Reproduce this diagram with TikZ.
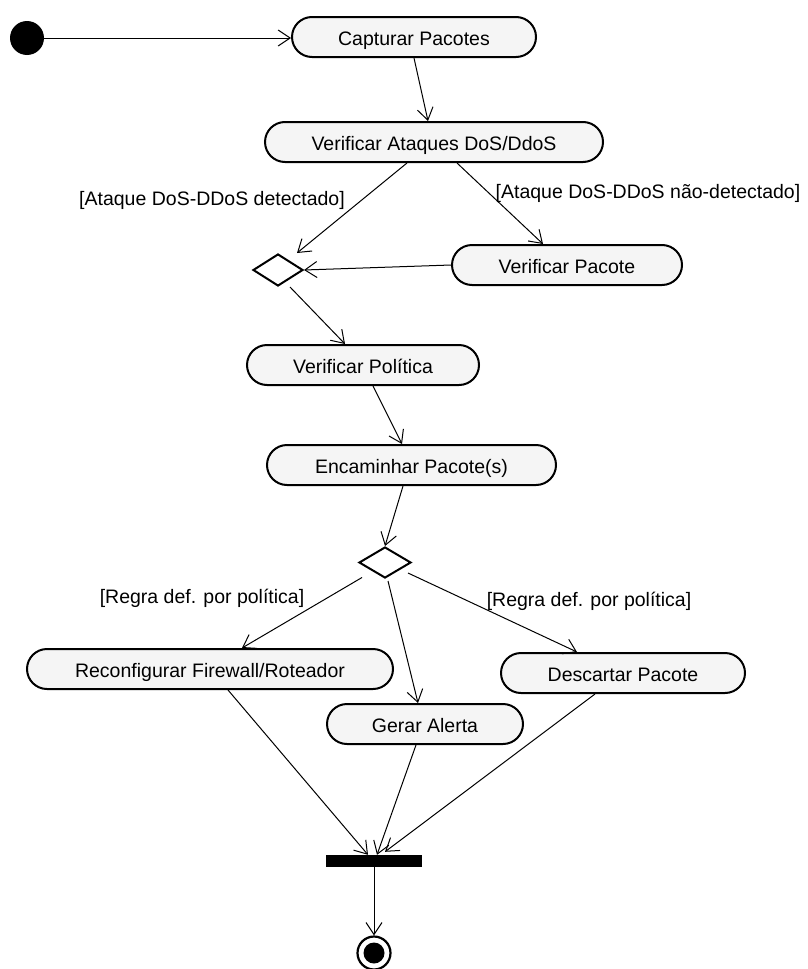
\documentclass[tikz,border=0pt]{standalone}
\usepackage{fontspec}
\setmainfont{Liberation Sans}
\usetikzlibrary{shapes.misc,shapes.geometric,arrows.meta}
\begin{document}
\begin{tikzpicture}[x=1pt,y=-1pt,
  action/.style={rounded rectangle, draw, line width=2pt, fill=black!4,
    minimum height=40pt, inner xsep=0pt, inner ysep=0pt,
    text height=16pt, text depth=0pt,
    font=\fontsize{19.5}{22}\selectfont},
  decision/.style={diamond, draw, line width=2pt, fill=white,
    minimum width=52pt, minimum height=31pt, inner sep=0pt},
  guard/.style={font=\fontsize{19.5}{22}\selectfont, inner sep=0pt},
  flow/.style={line width=1pt, -{Straight Barb[length=12pt,width=16pt,line width=1pt]}}]

\useasboundingbox (0,0) rectangle (808,969);

% initial node, actions, decisions, join bar and final node
\node[circle, fill=black, minimum size=34pt, inner sep=0pt] (start) at (27,38) {};
\node[action, minimum width=244pt] (cap)  at (414,37)   {Capturar Pacotes};
\node[action, minimum width=338pt] (va)   at (434,142)  {Verificar Ataques DoS/DdoS};
\node[decision, minimum width=50pt, minimum height=32pt] (d1) at (278,270) {};
\node[action, minimum width=230pt] (vp)   at (567,265)  {Verificar Pacote};
\node[action, minimum width=232pt] (vpol) at (363,365)  {Verificar Política};
\node[action, minimum width=289pt] (enc)  at (411.5,465) {Encaminhar Pacote(s)};
\node[decision] (d2) at (385,562.5) {};
\node[action, minimum width=366pt] (rec)  at (210,669)  {Reconfigurar Firewall/Roteador};
\node[action, minimum width=244pt] (desc) at (623,673)  {Descartar Pacote};
\node[action, minimum width=196pt] (ger)  at (425,724)  {Gerar Alerta};
\node[rectangle, fill=black, minimum width=96pt, minimum height=12pt, inner sep=0pt] (bar) at (374,861) {};
\node[circle, draw, line width=2.2pt, minimum size=33pt, inner sep=0pt] (fin) at (374,953) {};
\node[circle, fill=black, minimum size=21pt, inner sep=0pt] (finin) at (fin.center) {};

% guard labels
\node[guard] (g1) at (212,200) {[Ataque DoS-DDoS detectado]};
\node[guard] (g2) at (648,193) {[Ataque DoS-DDoS não-detectado]};
\node[guard] (g3) at (202,598) {[Regra def. por política]};
\node[guard] (g4) at (589,601) {[Regra def. por política]};

% control flows
\draw[flow] (start.east) -- (start.east -| cap.west);
\draw[flow] (cap.south) -- ([xshift=-6pt]va.north);
\draw[flow] ([xshift=-27pt]va.south) -- ([xshift=19pt,yshift=17pt]d1.center);
\draw[flow] ([xshift=23pt]va.south) -- ([xshift=-24pt]vp.north);
\draw[flow] (vp.west) -- (d1.east);
\draw[flow] ([xshift=12pt,yshift=-17pt]d1.center) -- ([xshift=-18pt]vpol.north);
\draw[flow] ([xshift=10pt]vpol.south) -- ([xshift=-9.5pt]enc.north);
\draw[flow] ([xshift=-8.5pt]enc.south) -- (d2.north);
\draw[flow] ([xshift=-23pt,yshift=-15pt]d2.center) -- ([xshift=32pt]rec.north);
\draw[flow] ([xshift=3pt,yshift=-2pt]d2.south) -- ([xshift=-7pt]ger.north);
\draw[flow] ([xshift=23pt,yshift=-10.5pt]d2.center) -- ([xshift=-46pt]desc.north);
\draw[flow] ([xshift=18pt]rec.south) -- ([xshift=-6pt]bar.north);
\draw[flow] ([xshift=-9pt]ger.south) -- ([xshift=3pt]bar.north);
\draw[flow] ([xshift=-28pt]desc.south) -- ([xshift=11pt,yshift=3pt]bar.north);
\draw[flow] (bar.south) -- (fin.north);
\end{tikzpicture}
\end{document}
